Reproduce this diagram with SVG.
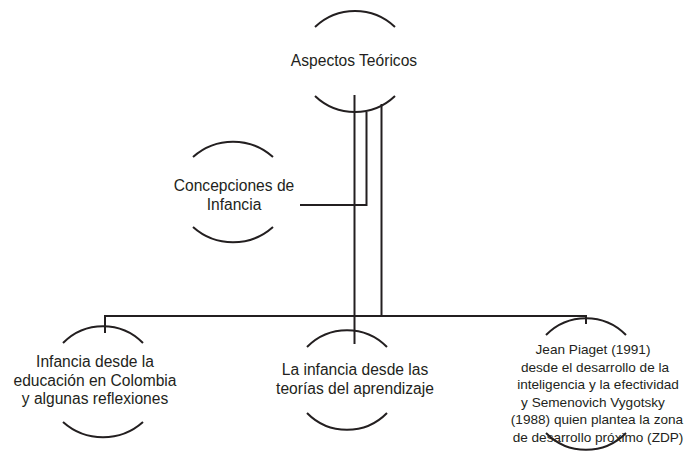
<svg xmlns="http://www.w3.org/2000/svg" width="685" height="457" viewBox="0 0 685 457">
<style>
.arc{fill:none;stroke:#231f20;stroke-width:2}
.ln{fill:none;stroke:#231f20;stroke-width:2}
text{font-family:"Liberation Sans",Arial,sans-serif;fill:#231f20;text-anchor:middle}
.t{font-size:15.6px}
.s{font-size:13.6px}
</style>
<rect width="685" height="457" fill="#fff"/>
<g id="connectors">
<path class="ln" d="M354.5 95 V344"/>
<path class="ln" d="M366.5 112 V205 H300"/>
<path class="ln" d="M381.5 104 V316"/>
<path class="ln" d="M105 333 V316 H586 V324"/>
</g>
<g id="aspectos">
<path class="arc" d="M315 27 A58 58 0 0 1 395 27"/>
<path class="arc" d="M315 96 A58 58 0 0 0 395 96"/>
<text class="t" x="354" y="66">Aspectos Teóricos</text>
</g>
<g id="concepciones">
<path class="arc" d="M193 157 A60 60 0 0 1 273 157"/>
<path class="arc" d="M193 227 A60 60 0 0 0 273 227"/>
<text class="t" x="234" y="191">Concepciones de</text>
<text class="t" x="234" y="210">Infancia</text>
</g>
<g id="infancia-colombia">
<path class="arc" d="M63 343 A56 56 0 0 1 143 343"/>
<path class="arc" d="M63 422 A60 60 0 0 0 143 422"/>
<text class="t" x="95" y="367">Infancia desde la</text>
<text class="t" x="95" y="386">educación en Colombia</text>
<text class="t" x="95" y="404">y algunas reflexiones</text>
</g>
<g id="teorias-aprendizaje">
<path class="arc" d="M307 347 A56 56 0 0 1 387 347"/>
<path class="arc" d="M307 413 A56 56 0 0 0 387 413"/>
<text class="t" x="355" y="375">La infancia desde las</text>
<text class="t" x="355" y="394">teorías del aprendizaje</text>
</g>
<g id="piaget-vygotsky">
<path class="arc" d="M546 335 A56 56 0 0 1 626 335"/>
<path class="arc" d="M546 433 A56 56 0 0 0 626 433"/>
<text class="s" x="593" y="354">Jean Piaget (1991)</text>
<text class="s" x="595" y="371.5">desde el desarrollo de la</text>
<text class="s" x="598" y="389">inteligencia y la efectividad</text>
<text class="s" x="593" y="406.5">y Semenovich Vygotsky</text>
<text class="s" x="597" y="424">(1988) quien plantea la zona</text>
<text class="s" x="598" y="441.5">de desarrollo próximo (ZDP)</text>
</g>
</svg>
